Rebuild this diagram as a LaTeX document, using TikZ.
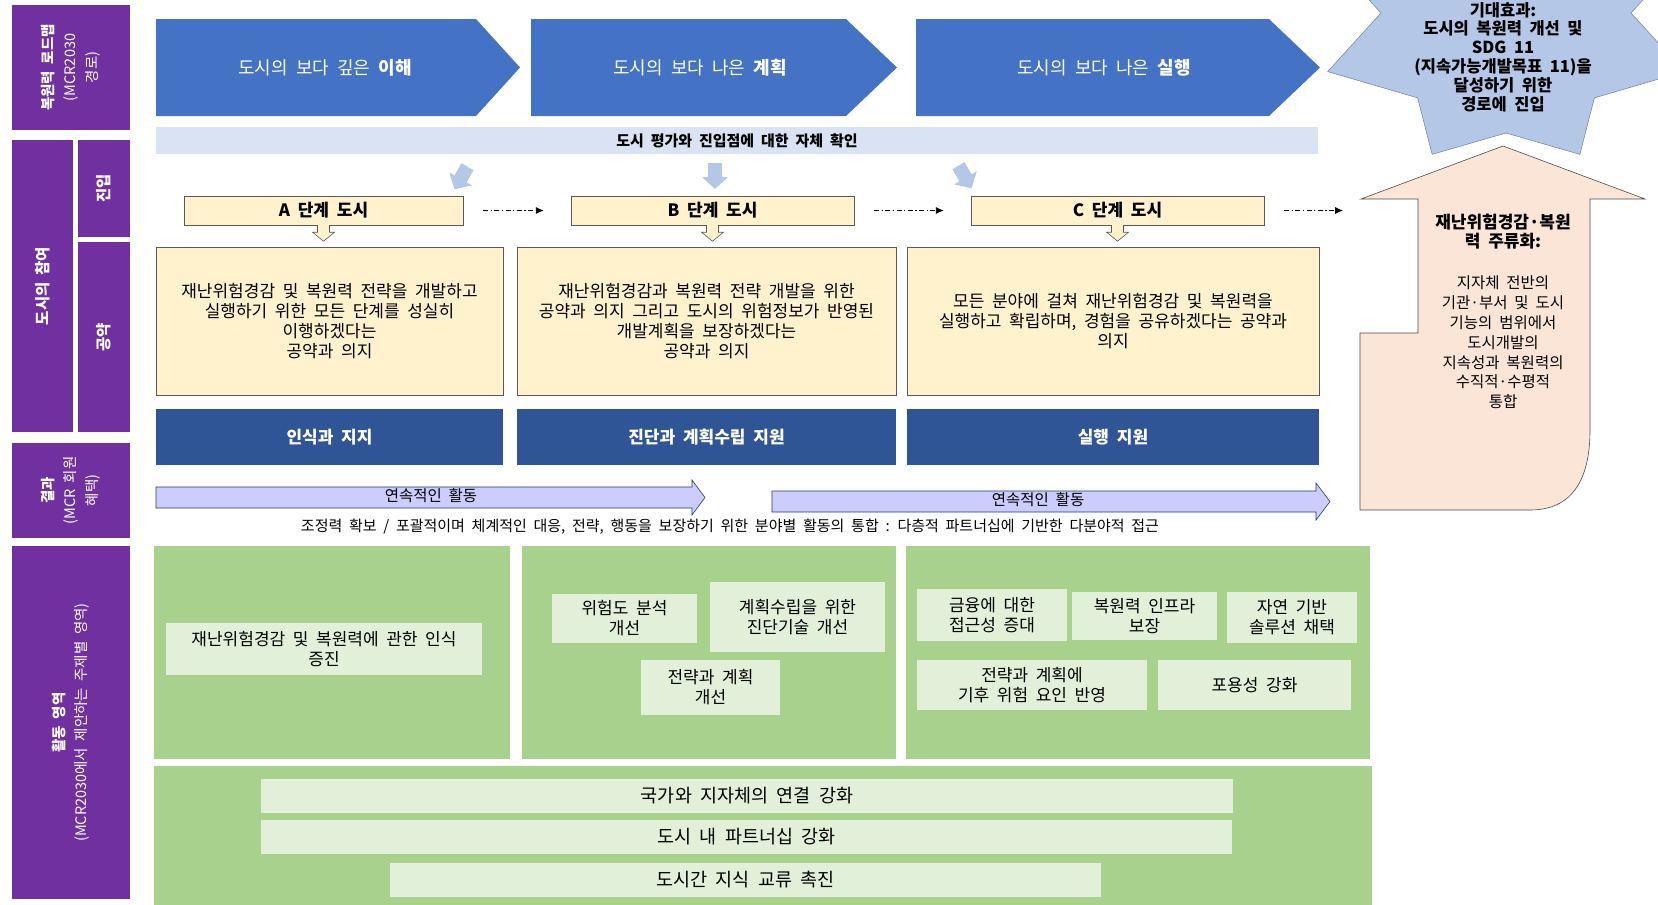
\documentclass[tikz,border=0pt]{standalone}
\usepackage{fontspec}
\setmainfont{Noto Sans CJK KR}[WordSpace=2]
\usetikzlibrary{arrows.meta}

\definecolor{mcrpurple}{HTML}{7030A0}
\definecolor{chevblue}{HTML}{4472C4}
\definecolor{bandblue}{HTML}{DAE3F3}
\definecolor{hintblue}{HTML}{B4C7E7}
\definecolor{paleyellow}{HTML}{FFF2CC}
\definecolor{navyblue}{HTML}{2F5597}
\definecolor{lavender}{HTML}{CCCCFF}
\definecolor{leafgreen}{HTML}{A9D18E}
\definecolor{mintgreen}{HTML}{E2F0D9}
\definecolor{peach}{HTML}{FBE5D6}
\definecolor{starblue}{HTML}{B4C7E7}

\tikzset{
  sidebox/.style={fill=mcrpurple, text=white, inner sep=0pt, align=center, rotate=90,
    font=\fontsize{14.5}{22}\selectfont},
  chevron/.style={fill=chevblue},
  chevtext/.style={text=white, font=\fontsize{18}{22}\selectfont},
  hint/.style={fill=hintblue},
  stagebox/.style={fill=paleyellow, draw=gray!70!black, inner sep=0pt,
    minimum height=29pt, font=\bfseries\fontsize{17}{20}\selectfont},
  downhint/.style={fill=paleyellow, draw=gray!70!black, line width=0.6pt},
  stageflow/.style={dash pattern=on 5pt off 2.5pt on 1.2pt off 2.5pt, line width=0.9pt,
    -{Latex[length=8pt,width=7pt]}, shorten <=20pt, shorten >=27pt},
  pledgebox/.style={fill=paleyellow, draw=gray!70!black, align=center, inner sep=0pt,
    minimum height=148pt, font=\fontsize{17}{20}\selectfont},
  resultbox/.style={fill=navyblue, text=white, inner sep=0pt, minimum height=56pt,
    font=\bfseries\fontsize{17}{20}\selectfont},
  flowarrow/.style={fill=lavender, draw=navyblue!70!black, line width=0.6pt},
  greenpanel/.style={fill=leafgreen, inner sep=0pt},
  greenbox/.style={fill=mintgreen, align=center, inner sep=0pt, font=\fontsize{17}{20}\selectfont},
  sdgstar/.style={fill=starblue, draw=starblue!70!black, line width=0.6pt},
  mainstream/.style={fill=peach, draw=gray!60!black, line width=0.6pt}
}

\begin{document}
\begin{tikzpicture}[x=1pt, y=-1pt]
  \useasboundingbox (0,0) rectangle (1658,905);
  \clip (0,0) rectangle (1658,905);

  % left column
  \node[sidebox, minimum width=125pt, minimum height=118pt] (road) at (71,67.5)
    {{\bfseries 복원력 로드맵}\\(MCR2030\\경로)};
  \node[sidebox, minimum width=292pt, minimum height=61pt] (part) at (42.5,286)
    {\bfseries\fontsize{15.5}{20}\selectfont 도시의 참여};
  \node[sidebox, minimum width=97pt, minimum height=52pt] (entry) at (104,188.5)
    {\bfseries\fontsize{15.5}{20}\selectfont 진입};
  \node[sidebox, minimum width=190pt, minimum height=52pt] (pledge) at (104,337)
    {\bfseries\fontsize{15.5}{20}\selectfont 공약};
  \node[sidebox, minimum width=95pt, minimum height=118pt] (result) at (71,490.5)
    {{\bfseries 결과}\\(MCR 회원\\혜택)};
  \node[sidebox, minimum width=353pt, minimum height=118pt] (action) at (71,722.5)
    {{\bfseries 활동 영역}\\(MCR2030에서 제안하는 주제별 영역)};

  % roadmap chevrons
  \foreach \name/\xl/\xb/\xt/\xc/\txt in {
      understand/156/476/520/325/{도시의 보다 깊은 \textbf{이해}},
      plan/531/846/897/700/{도시의 보다 나은 \textbf{계획}},
      implement/916/1269/1320/1104/{도시의 보다 나은 \textbf{실행}}} {
    \fill[chevron] (\xl,19) -- (\xb,19) -- (\xt,67.5) -- (\xb,116) -- (\xl,116) -- cycle;
    \node[chevtext] (\name) at (\xc,67.5) {\txt};
  }

  \node[fill=bandblue, inner sep=0pt, minimum width=1162pt, minimum height=27pt,
    font=\bfseries\fontsize{15}{18}\selectfont] (selfcheck) at (737,140.5)
    {도시 평가와 진입점에 대한 자체 확인};

  % entry point hints
  \foreach \x/\y/\r in {461/178/-120, 715/176/-90, 965/177/-60} {
    \fill[hint, shift={(\x,\y)}, rotate=\r]
      (-13,-7) -- (1,-7) -- (1,-13) -- (13,0) -- (1,13) -- (1,7) -- (-13,7) -- cycle;
  }

  % stages and pledges
  \foreach \name/\xc/\w/\txt in {stA/323.5/279/{A 단계 도시}, stB/712.5/283/{B 단계 도시},
      stC/1117.5/293/{C 단계 도시}} {
    \node[stagebox, minimum width=\w pt] (\name) at (\xc,210.5) {\txt};
    \filldraw[downhint, shift={(\name.south)}]
      (-6,0) -- (-6,7) -- (-11,7) -- (0,16) -- (11,7) -- (6,7) -- (6,0);
  }
  \coordinate (stEnd) at (1370,210.5);
  \draw[stageflow] (stA) -- (stB);
  \draw[stageflow] (stB) -- (stC);
  \draw[stageflow] (stC) -- (stEnd);

  \node[pledgebox, minimum width=347pt] (pledgeA) at (329.5,321)
    {재난위험경감 및 복원력 전략을 개발하고\\실행하기 위한 모든 단계를 성실히\\이행하겠다는\\공약과 의지};
  \node[pledgebox, minimum width=379pt] (pledgeB) at (706.5,321)
    {재난위험경감과 복원력 전략 개발을 위한\\공약과 의지 그리고 도시의 위험정보가 반영된\\개발계획을 보장하겠다는\\공약과 의지};
  \node[pledgebox, minimum width=412pt] (pledgeC) at (1113,321)
    {모든 분야에 걸쳐 재난위험경감 및 복원력을\\실행하고 확립하며, 경험을 공유하겠다는 공약과\\의지};

  % results
  \node[resultbox, minimum width=347pt] (aware) at (329.5,437) {인식과 지지};
  \node[resultbox, minimum width=379pt] (diagnose) at (706.5,437) {진단과 계획수립 지원};
  \node[resultbox, minimum width=412pt] (support) at (1113,437) {실행 지원};

  % continuous activities
  \filldraw[flowarrow] (156,487) -- (692,487) -- (692,480) -- (705,497.5) -- (692,515)
    -- (692,508) -- (156,508) -- cycle;
  \filldraw[flowarrow] (772,491) -- (1316,491) -- (1316,483) -- (1330,501.5) -- (1316,520)
    -- (1316,512) -- (772,512) -- cycle;
  \node[font=\fontsize{15.5}{18}\selectfont] (ongoingA) at (431,496) {연속적인 활동};
  \node[font=\fontsize{15.5}{18}\selectfont] (ongoingB) at (1038,500) {연속적인 활동};

  \node[font=\fontsize{15}{18}\selectfont] (integrate) at (730,527)
    {조정력 확보 / 포괄적이며 체계적인 대응, 전략, 행동을 보장하기 위한 분야별 활동의 통합 : 다층적 파트너십에 기반한 다분야적 접근};

  % action areas
  \node[greenpanel, minimum width=356pt, minimum height=213pt] (panelA) at (332,652.5) {};
  \node[greenpanel, minimum width=374pt, minimum height=213pt] (panelB) at (709,652.5) {};
  \node[greenpanel, minimum width=464pt, minimum height=213pt] (panelC) at (1138,652.5) {};
  \node[greenpanel, minimum width=1218pt, minimum height=139pt] (panelAll) at (763,835.5) {};

  \foreach \name/\x/\y/\w/\h/\txt in {
      awareness/324/649/316/52/{재난위험경감 및 복원력에 관한 인식\\증진},
      riskmap/624.5/618.5/145/49/{위험도 분석\\개선},
      diagtool/797.5/617/175/70/{계획수립을 위한\\진단기술 개선},
      strategy/710.5/687.5/139/55/{전략과 계획\\개선},
      finance/992/615/150/52/{금융에 대한\\접근성 증대},
      infra/1144.5/616/145/48/{복원력 인프라\\보장},
      nature/1292/617.5/130/51/{자연 기반\\솔루션 채택},
      climate/1032/685/230/50/{전략과 계획에\\기후 위험 요인 반영},
      inclusion/1254.5/685/193/50/{포용성 강화}} {
    \node[greenbox, minimum width=\w pt, minimum height=\h pt] (\name) at (\x,\y) {\txt};
  }
  \foreach \name/\x/\y/\w/\txt in {
      national/747/795.5/972/{국가와 지자체의 연결 강화},
      partner/746.5/837/971/{도시 내 파트너십 강화},
      exchange/745.5/880/711/{도시간 지식 교류 촉진}} {
    \node[greenbox, minimum width=\w pt, minimum height=34pt,
      font=\fontsize{18.5}{20}\selectfont] (\name) at (\x,\y) {\txt};
  }

  % mainstreaming arrow
  \filldraw[mainstream] (1361,199) -- (1503,146) -- (1645,199) -- (1590,199) -- (1590,430)
    .. controls (1590,480) and (1572,510) .. (1530,510) -- (1360,510) -- (1360,333)
    -- (1418,333) -- (1418,199) -- cycle;
  \node[align=center, font=\bfseries\fontsize{17}{19.5}\selectfont] (mainhead) at (1503,231.5)
    {재난위험경감·복원\\력 주류화:};
  \node[align=center, font=\fontsize{15.5}{19.8}\selectfont] (mainbody) at (1503,342.5)
    {지자체 전반의\\기관·부서 및 도시\\기능의 범위에서\\도시개발의\\지속성과 복원력의\\수직적·수평적\\통합};

  % expected effect star
  \filldraw[sdgstar, shift={(1506,13)}] (22.5:193 and 153)
    \foreach \a in {22.5,67.5,...,337.5} { -- (\a:193 and 153) -- ({\a+22.5}:125 and 120) } -- cycle;
  \node[align=center, font=\bfseries\fontsize{16.5}{18.8}\selectfont] (effect) at (1503,57)
    {기대효과:\\도시의 복원력 개선 및\\SDG 11\\(지속가능개발목표 11)을\\달성하기 위한\\경로에 진입};
\end{tikzpicture}
\end{document}
